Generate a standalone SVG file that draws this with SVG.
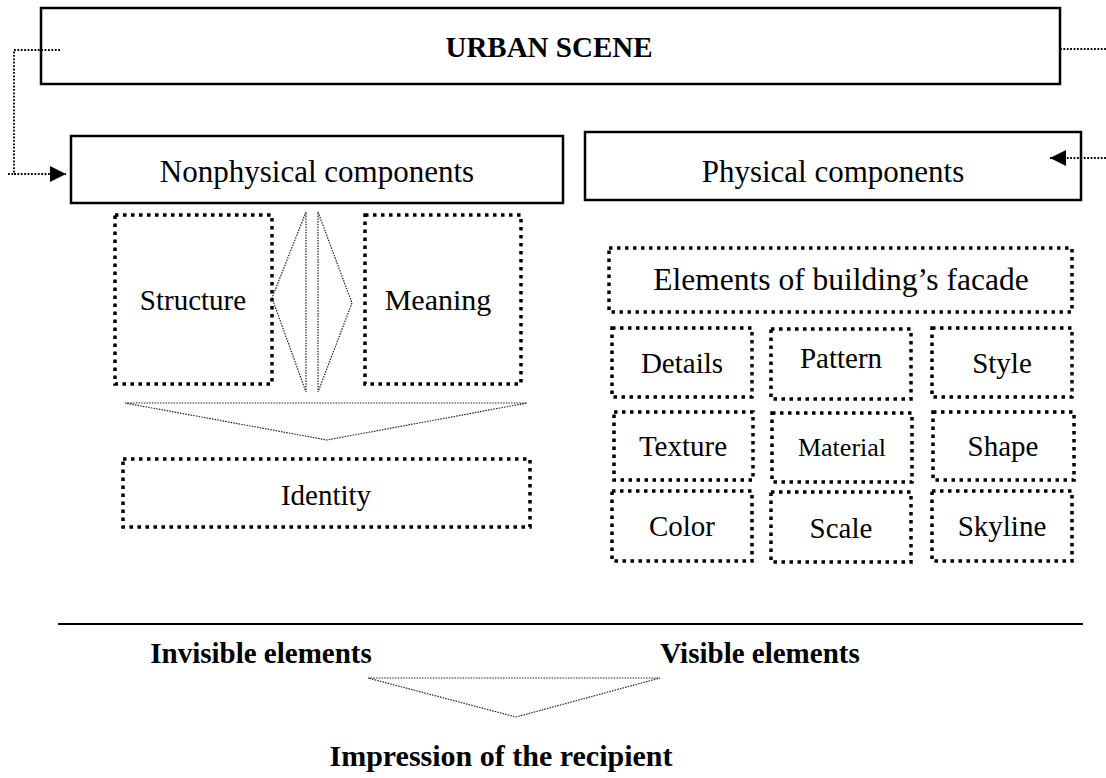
<svg xmlns="http://www.w3.org/2000/svg" width="1106" height="778" viewBox="0 0 1106 778">
<defs>
<style>
.solid{fill:#fff;stroke:#000;stroke-width:2.5}
.dot{fill:none;stroke:#000;stroke-width:3.5;stroke-dasharray:3.5 4.5}
.thin{fill:none;stroke:#222;stroke-width:1.2;stroke-dasharray:1.5 1.2}
.conn{fill:none;stroke:#000;stroke-width:1.8;stroke-dasharray:1.8 1.6}
.t{font-family:"Liberation Serif","Times New Roman",serif;fill:#000;text-anchor:middle}
.b{font-weight:bold}
</style>
<marker id="ah" viewBox="0 0 10 10" refX="10" refY="5" markerWidth="16" markerHeight="16" markerUnits="userSpaceOnUse" orient="auto">
<path d="M0,0 L10,5 L0,10 z" fill="#000"/>
</marker>
</defs>
<rect width="1106" height="778" fill="#fff"/>

<g id="urban-scene">
<rect class="solid" x="41" y="8" width="1019" height="76"/>
<text class="t b" x="549" y="57" font-size="29">URBAN SCENE</text>
</g>

<g id="nonphysical">
<rect class="solid" x="71" y="136" width="492" height="67"/>
<text class="t" x="317" y="182" font-size="31">Nonphysical components</text>
</g>
<g id="physical">
<rect class="solid" x="585" y="132" width="496" height="68"/>
<text class="t" x="833" y="182" font-size="31">Physical components</text>
</g>

<g id="structure">
<rect class="dot" x="115" y="215" width="157" height="169"/>
<text class="t" x="193" y="310" font-size="29">Structure</text>
</g>
<g id="meaning">
<rect class="dot" x="365" y="215" width="156" height="169"/>
<text class="t" x="438" y="310" font-size="30">Meaning</text>
</g>
<g id="identity">
<rect class="dot" x="123" y="459" width="407" height="68"/>
<text class="t" x="326" y="505" font-size="29">Identity</text>
</g>

<g id="elements-facade">
<rect class="dot" x="609" y="248" width="463" height="64"/>
<text class="t" x="841" y="290" font-size="31.5">Elements of building’s facade</text>
</g>
<g id="details">
<rect class="dot" x="612" y="328" width="140" height="69"/>
<text class="t" x="682" y="373" font-size="29">Details</text>
</g>
<g id="pattern">
<rect class="dot" x="771" y="329" width="140" height="70"/>
<text class="t" x="841" y="368" font-size="29">Pattern</text>
</g>
<g id="style">
<rect class="dot" x="932" y="328" width="140" height="69"/>
<text class="t" x="1002" y="373" font-size="29">Style</text>
</g>
<g id="texture">
<rect class="dot" x="614" y="412" width="139" height="68"/>
<text class="t" x="683" y="456" font-size="29">Texture</text>
</g>
<g id="material">
<rect class="dot" x="772" y="413" width="140" height="69"/>
<text class="t" x="842" y="456" font-size="26">Material</text>
</g>
<g id="shape">
<rect class="dot" x="933" y="412" width="141" height="68"/>
<text class="t" x="1003" y="456" font-size="29">Shape</text>
</g>
<g id="color">
<rect class="dot" x="612" y="491" width="140" height="70"/>
<text class="t" x="682" y="536" font-size="29">Color</text>
</g>
<g id="scale">
<rect class="dot" x="771" y="492" width="140" height="70"/>
<text class="t" x="841" y="538" font-size="29">Scale</text>
</g>
<g id="skyline">
<rect class="dot" x="932" y="491" width="140" height="70"/>
<text class="t" x="1002" y="536" font-size="29">Skyline</text>
</g>

<g id="invisible">
<text class="t b" x="261" y="663" font-size="29">Invisible elements</text>
</g>
<g id="visible">
<text class="t b" x="760" y="663" font-size="29">Visible elements</text>
</g>
<g id="impression">
<text class="t b" x="501" y="766" font-size="30">Impression of the recipient</text>
</g>

<g id="connectors">
<path class="conn" d="M60,50 H14 V174 H66" marker-end="url(#ah)"/>
<path class="conn" d="M8,174 H16"/>
<path class="conn" d="M1060,49 H1106"/>
<path class="conn" d="M1106,158 H1050" marker-end="url(#ah)"/>
<g id="double-arrow">
<path class="thin" d="M306,212 L272,298 L306,392 Z"/>
<path class="thin" d="M318,212 L352,303 L318,392 Z"/>
</g>
<path class="thin" d="M125,403 L527,403 L327,440 Z"/>
<path class="thin" d="M368,678 L660,678 L516,717 Z"/>
<line x1="58" y1="624" x2="1083" y2="624" stroke="#000" stroke-width="2.2"/>
</g>
</svg>
